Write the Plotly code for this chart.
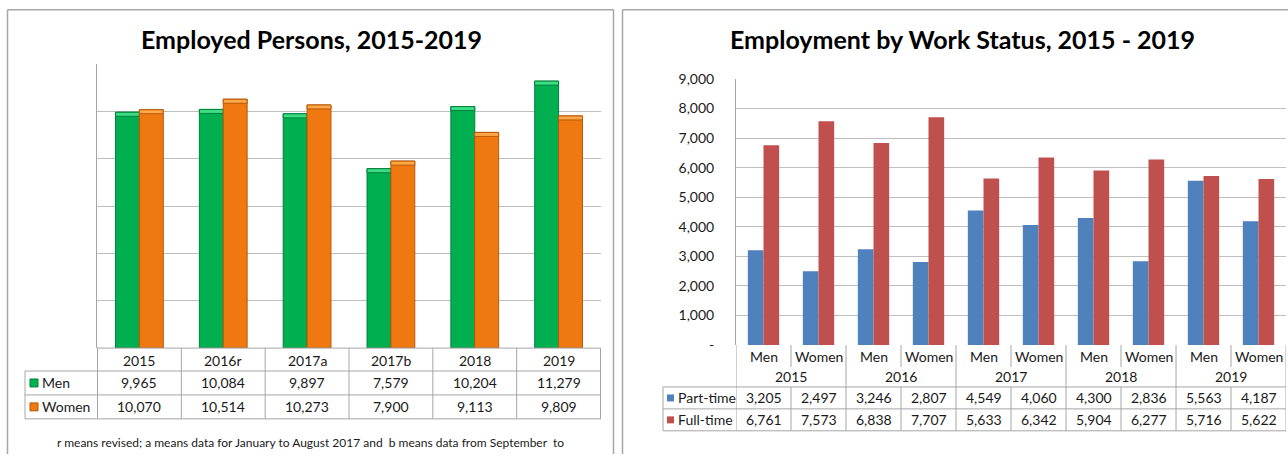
import plotly.graph_objects as go

# ---- Employed persons by sex ----
periods = ["2015", "2016r", "2017a", "2017b", "2018", "2019"]
men = [9965, 10084, 9897, 7579, 10204, 11279]
women = [10070, 10514, 10273, 7900, 9113, 9809]

# ---- Employment by work status ----
years = ["2015", "2016", "2017", "2018", "2019"]
sexes = ["Men", "Women"]
part_time = [3205, 2497, 3246, 2807, 4549, 4060, 4300, 2836, 5563, 4187]
full_time = [6761, 7573, 6838, 7707, 5633, 6342, 5904, 6277, 5716, 5622]
status_ticks = [0, 1000, 2000, 3000, 4000, 5000, 6000, 7000, 8000, 9000]
status_tick_text = ["-" if v == 0 else f"{v:,}" for v in status_ticks]

footnote = ("r means revised; a means data for January to August 2017 and  "
            "b means data from September  to")

W, H = 1288, 462
# the page adds an 8px body margin around the figure; vertical layout positions are
# expressed in page pixels and converted back to figure pixels here
PAGE_SCALE = H / (H + 16)
PAGE_OFFSET = 8 * PAGE_SCALE
FONT = "Lato"
GRID = "#BFBFBF"
LINE = "#A6A6A6"
TXT = "#1a1a1a"
GREEN, GREEN_EDGE, GREEN_TOP = "#00B050", "#00803A", "#3DDC85"
ORANGE, ORANGE_EDGE, ORANGE_TOP = "#F07810", "#B85A08", "#FFA647"
BEVEL = 170  # height of the lighter bevel on top of each 3-D bar (axis units)


def px(x):
    return x / W


def py(y):
    return 1 - ((y - PAGE_OFFSET) / PAGE_SCALE) / H


def label(text, x, y, xref="paper", size=14, xanchor="center", bold=False, color=TXT):
    return dict(text=f"<b>{text}</b>" if bold else text, x=x, y=y, xref=xref, yref="paper",
                xanchor=xanchor, yanchor="middle", showarrow=False,
                font=dict(family=FONT, size=size, color=color))


def hline(x0, x1, y, xref="paper", width=1):
    return dict(type="line", xref=xref, yref="paper", x0=x0, x1=x1, y0=y, y1=y,
                line=dict(color=LINE, width=width))


def vline(x, y0, y1, xref="paper", width=1):
    return dict(type="line", xref=xref, yref="paper", x0=x, x1=x, y0=y0, y1=y1,
                line=dict(color=LINE, width=width))


fig = go.Figure()

# left chart: bevelled bars (body + lighter cap drawn in the same slot)
for vals, name, grp, fill, edge, top in [(men, "Men", "m", GREEN, GREEN_EDGE, GREEN_TOP),
                                        (women, "Women", "w", ORANGE, ORANGE_EDGE, ORANGE_TOP)]:
    fig.add_trace(go.Bar(x=periods, y=vals, name=name, xaxis="x", yaxis="y", offsetgroup=grp,
                         marker=dict(color=fill, line=dict(color=edge, width=1))))
    fig.add_trace(go.Bar(x=periods, y=[BEVEL] * len(vals), base=[v - BEVEL for v in vals],
                         name=name, xaxis="x", yaxis="y", offsetgroup=grp, hoverinfo="skip",
                         marker=dict(color=top, line=dict(color=edge, width=1))))

# right chart bars
idx = list(range(len(part_time)))
fig.add_trace(go.Bar(x=idx, y=part_time, name="Part-time", xaxis="x2", yaxis="y2",
                     marker=dict(color="#4F81BD", line=dict(width=0))))
fig.add_trace(go.Bar(x=idx, y=full_time, name="Full-time", xaxis="x2", yaxis="y2",
                     marker=dict(color="#C0504D", line=dict(width=0))))

shapes = []
ann = []

# panel frames (open at the bottom / right page edge)
shapes += [vline(px(7.5), 0, py(8.5), width=1.5), vline(px(613.5), 0, py(8.5), width=1.5),
           hline(px(7.5), px(613.5), py(8.5), width=1.5),
           vline(px(622.5), 0, py(8.5), width=1.5), hline(px(622.5), 1, py(8.5), width=1.5)]

# titles
ann.append(label("Employed Persons, 2015-2019", px(311), py(38), size=25, bold=True, color="#000"))
ann.append(label("Employment by Work Status, 2015 - 2019", px(962), py(38), size=25,
                 bold=True, color="#000"))

# ---- left data table ----
L_left, L_plot, L_right = 25, 97, 601
shapes.append(hline(px(L_plot), px(L_right), py(348)))
for yy in [371, 395, 419]:
    shapes.append(hline(px(L_left), px(L_right), py(yy)))
shapes.append(vline(px(L_left), py(371), py(419)))
for i in range(len(periods) + 1):
    shapes.append(vline(i - 0.5, py(348), py(419), xref="x"))
for i, p in enumerate(periods):
    ann.append(label(p, i, py(360), xref="x"))
    ann.append(label(f"{men[i]:,}", i, py(383), xref="x"))
    ann.append(label(f"{women[i]:,}", i, py(407), xref="x"))
for name, yc, fill, edge in [("Men", 383, GREEN, GREEN_EDGE), ("Women", 407, ORANGE, ORANGE_EDGE)]:
    shapes.append(dict(type="rect", xref="paper", yref="paper", x0=px(30), x1=px(38),
                       y0=py(yc + 4), y1=py(yc - 4), fillcolor=fill,
                       line=dict(color=edge, width=1)))
    ann.append(label(name, px(40), py(yc), xanchor="left"))
ann.append(label(footnote, px(310), py(443), size=12))

# ---- right data table ----
R_left, R_plot, R_right = 663, 736, 1286
n = len(part_time)
for yy in [387, 409, 431]:
    shapes.append(hline(px(R_left), px(R_right), py(yy)))
shapes.append(vline(px(R_left), py(387), py(431)))
for i in range(n + 1):
    segs = [(345, 431)] if i % 2 == 0 else [(345, 367), (387, 431)]
    for top, bottom in segs:
        shapes.append(vline(i - 0.5, py(top), py(bottom), xref="x2"))
for i in range(n):
    ann.append(label(sexes[i % 2], i, py(356), xref="x2"))
    ann.append(label(f"{part_time[i]:,}", i, py(398), xref="x2"))
    ann.append(label(f"{full_time[i]:,}", i, py(420), xref="x2"))
for j, yr in enumerate(years):
    ann.append(label(yr, 2 * j + 0.5, py(377), xref="x2"))
for name, yc, fill in [("Part-time", 398, "#4F81BD"), ("Full-time", 420, "#C0504D")]:
    shapes.append(dict(type="rect", xref="paper", yref="paper", x0=px(667), x1=px(674),
                       y0=py(yc + 3.5), y1=py(yc - 3.5), fillcolor=fill, line=dict(width=0)))
    ann.append(label(name, px(676), py(yc), xanchor="left"))

fig.update_layout(
    width=W, height=H, autosize=False,
    margin=dict(l=0, r=0, t=0, b=0, pad=0),
    paper_bgcolor="white", plot_bgcolor="white",
    showlegend=False,
    barmode="group", bargap=0.43, bargroupgap=0,
    xaxis=dict(type="category", domain=[px(97), px(601)], showticklabels=False,
               showgrid=False, zeroline=False, showline=False, ticks=""),
    yaxis=dict(domain=[py(348), py(63)], range=[0, 12000], dtick=2000,
               showticklabels=False, showgrid=True, gridcolor=GRID, gridwidth=1,
               zeroline=False, showline=True, linecolor=LINE, linewidth=1, ticks=""),
    xaxis2=dict(domain=[px(736), px(1286)], range=[-0.5, n - 0.5], showticklabels=False,
                showgrid=False, zeroline=False, showline=False, ticks="", anchor="y2"),
    yaxis2=dict(domain=[py(345), py(78)], range=[0, 9000], tickvals=status_ticks,
                ticktext=status_tick_text, showgrid=True, gridcolor=GRID, gridwidth=1,
                zeroline=False, showline=True, linecolor=LINE, linewidth=1, ticks="",
                ticklabelstandoff=18, anchor="x2",
                tickfont=dict(family=FONT, size=14, color=TXT)),
    shapes=shapes,
    annotations=ann,
)

fig.write_html("out.html")
